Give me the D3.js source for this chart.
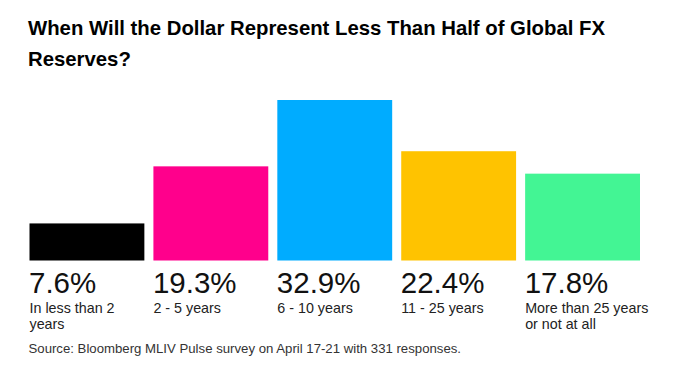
<!DOCTYPE html>
<html>
<head>
<meta charset="utf-8">
<script src="https://cdn.jsdelivr.net/npm/d3@7"></script>
<style>
  html, body { margin: 0; padding: 0; background: #fff; }
  svg { display: block; }
</style>
</head>
<body>
<svg id="chart" width="700" height="380"></svg>
<script>
const titleLines = ["When Will the Dollar Represent Less Than Half of Global FX", "Reserves?"];
const categories = ["In less than 2\nyears", "2 - 5 years", "6 - 10 years", "11 - 25 years", "More than 25 years\nor not at all"];
const values = [7.6, 19.3, 32.9, 22.4, 17.8];
const colors = ["#000000", "#ff008c", "#00acff", "#ffc300", "#43f594"];
const source = "Source: Bloomberg MLIV Pulse survey on April 17-21 with 331 responses.";

const svg = d3.select("#chart");

const x = d3.scaleBand().domain(categories).range([29.5, 640]).paddingInner(0.073).paddingOuter(0);
const y = d3.scaleLinear().domain([0, d3.max(values)]).range([260.5, 100]);

// Title
const title = svg.append("g");
title.selectAll("text").data(titleLines).join("text")
  .attr("x", 28)
  .attr("y", (d, i) => 34.5 + i * 31)
  .attr("font-family", "'Liberation Sans', Arial, sans-serif")
  .attr("font-weight", 700)
  .attr("font-size", 21)
  .attr("fill", "#000")
  .text(d => d);
// condense title to match target width
const t0 = title.select("text").node();
const w0 = t0.getComputedTextLength();
const ratio = 577 / w0;
title.selectAll("text").each(function() {
  const w = this.getComputedTextLength();
  d3.select(this).attr("textLength", w * ratio).attr("lengthAdjust", "spacingAndGlyphs");
});

const data = categories.map((c, i) => ({ c, v: values[i], color: colors[i] }));

svg.append("g").selectAll("rect").data(data).join("rect")
  .attr("x", d => x(d.c))
  .attr("y", d => y(d.v))
  .attr("width", x.bandwidth())
  .attr("height", d => y(0) - y(d.v))
  .attr("fill", d => d.color);

svg.append("g").selectAll("text").data(data).join("text")
  .attr("x", d => x(d.c) - 0.5)
  .attr("y", 293)
  .attr("font-family", "'Liberation Sans', Arial, sans-serif")
  .attr("font-weight", 400)
  .attr("font-size", 29.5)
  .attr("fill", "#111")
  .text(d => d3.format(".1f")(d.v) + "%");

const labels = svg.append("g").selectAll("text").data(data).join("text")
  .attr("x", d => x(d.c))
  .attr("y", 313)
  .attr("font-family", "'Liberation Sans', Arial, sans-serif")
  .attr("font-size", 14.3)
  .attr("fill", "#222");
labels.selectAll("tspan").data(d => d.c.split("\n").map(s => ({ s, x: x(d.c) }))).join("tspan")
  .attr("x", d => d.x)
  .attr("dy", (d, i) => i === 0 ? 0 : 15.5)
  .text(d => d.s);

svg.append("text")
  .attr("x", 28.5)
  .attr("y", 353)
  .attr("font-family", "'Liberation Sans', Arial, sans-serif")
  .attr("font-size", 13.2)
  .attr("fill", "#333")
  .text(source);
</script>
</body>
</html>
